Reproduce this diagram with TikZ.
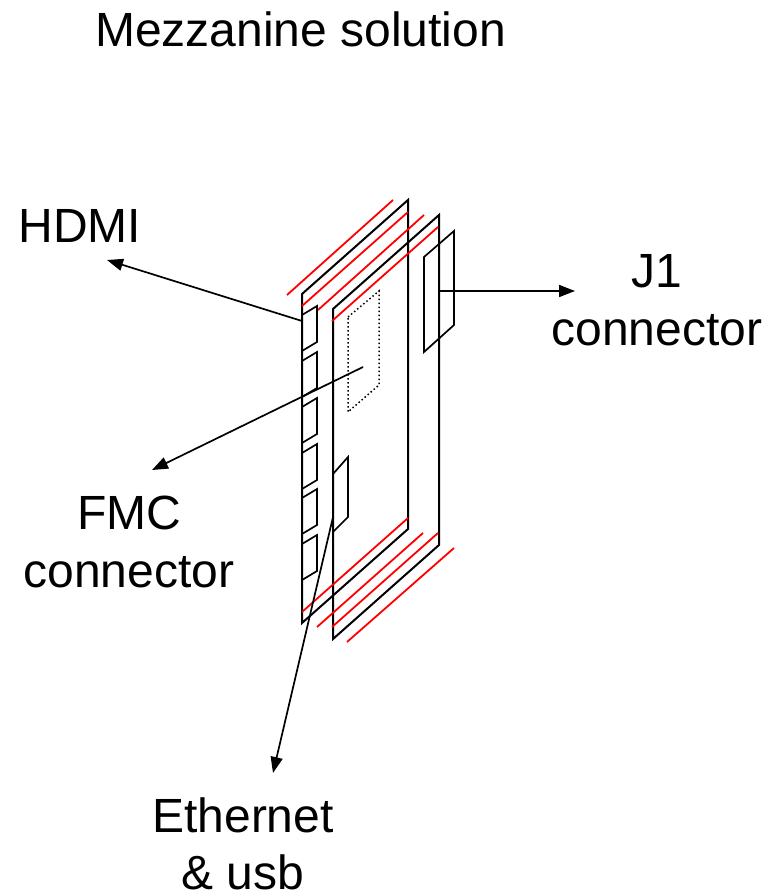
\documentclass[tikz,border=0pt]{standalone}
\usepackage{fontspec}
\setmainfont{Liberation Sans}
\usetikzlibrary{arrows.meta}
\tikzset{
  x=1pt,y=-1pt,
  lbl/.style={inner sep=0pt,outer sep=0pt,align=center,font=\fontsize{48}{57.5}\selectfont},
  part/.style={draw=black,line width=2pt,line join=miter},
  partthin/.style={draw=black,line width=1.7pt,line join=miter},
  redline/.style={draw=red,line width=1.8pt},
  dotline/.style={draw=black,line width=1.5pt,dash pattern=on 1.5pt off 2.5pt},
  arrowline/.style={draw=black,line width=1.7pt,-{Triangle[length=16pt,width=12pt]}},
}
\begin{document}
\begin{tikzpicture}
\useasboundingbox (0,0) rectangle (776,893);
\node[lbl,anchor=base] (title) at (300.5,46.5) {Mezzanine solution};
\node[lbl,anchor=base] (hdmi) at (80,243) {HDMI};
\node[lbl] (j1) at (657,300) {J1\\connector};
\node[lbl] (fmc) at (129,542) {FMC\\connector};
\node[lbl] (eth) at (243,843.5) {Ethernet\\\smash{\& usb}};

% boards
\draw[part] (302,294) -- (408,200) -- (408,529) -- (302,623) -- cycle;
\draw[part] (333,309) -- (439,215) -- (439,545) -- (333,639) -- cycle;

% red rails
\foreach \a/\b/\c/\d in {287/295/393/200,302/306/408/212,318/310/424/215,332/321/438/227,
  302/612/408/518,317/627/423/533,332/627/438/533,347/642/454/548}
  \draw[redline] (\a,\b) -- (\c,\d);

% front-panel connectors
\foreach \t in {315,361,407,453,498,544}
  \draw[partthin] (302,\t) -- (317,\t-9) -- (317,\t+27) -- (302,\t+36);

% J1, FMC, Ethernet outlines
\draw[partthin] (424,257) -- (454,231) -- (454,325) -- (424,352) -- cycle;
\draw[dotline] (348,317) -- (379,291) -- (379,385) -- (348,412) -- cycle;
\draw[partthin] (333,474) -- (348,457) -- (348,517) -- (333,532);

% arrow ends
\coordinate (hdmiS) at (302,321);
\coordinate (hdmiE) at (107,260);
\coordinate (j1S) at (438,291);
\coordinate (j1E) at (575,291);
\coordinate (fmcS) at (363,367);
\coordinate (fmcE) at (152,470);
\coordinate (ethS) at (333,517);
\coordinate (ethE) at (273,773);
\draw[arrowline] (hdmiS) -- (hdmiE);
\draw[arrowline] (j1S) -- (j1E);
\draw[arrowline] (fmcS) -- (fmcE);
\draw[arrowline] (ethS) -- (ethE);
\end{tikzpicture}
\end{document}
